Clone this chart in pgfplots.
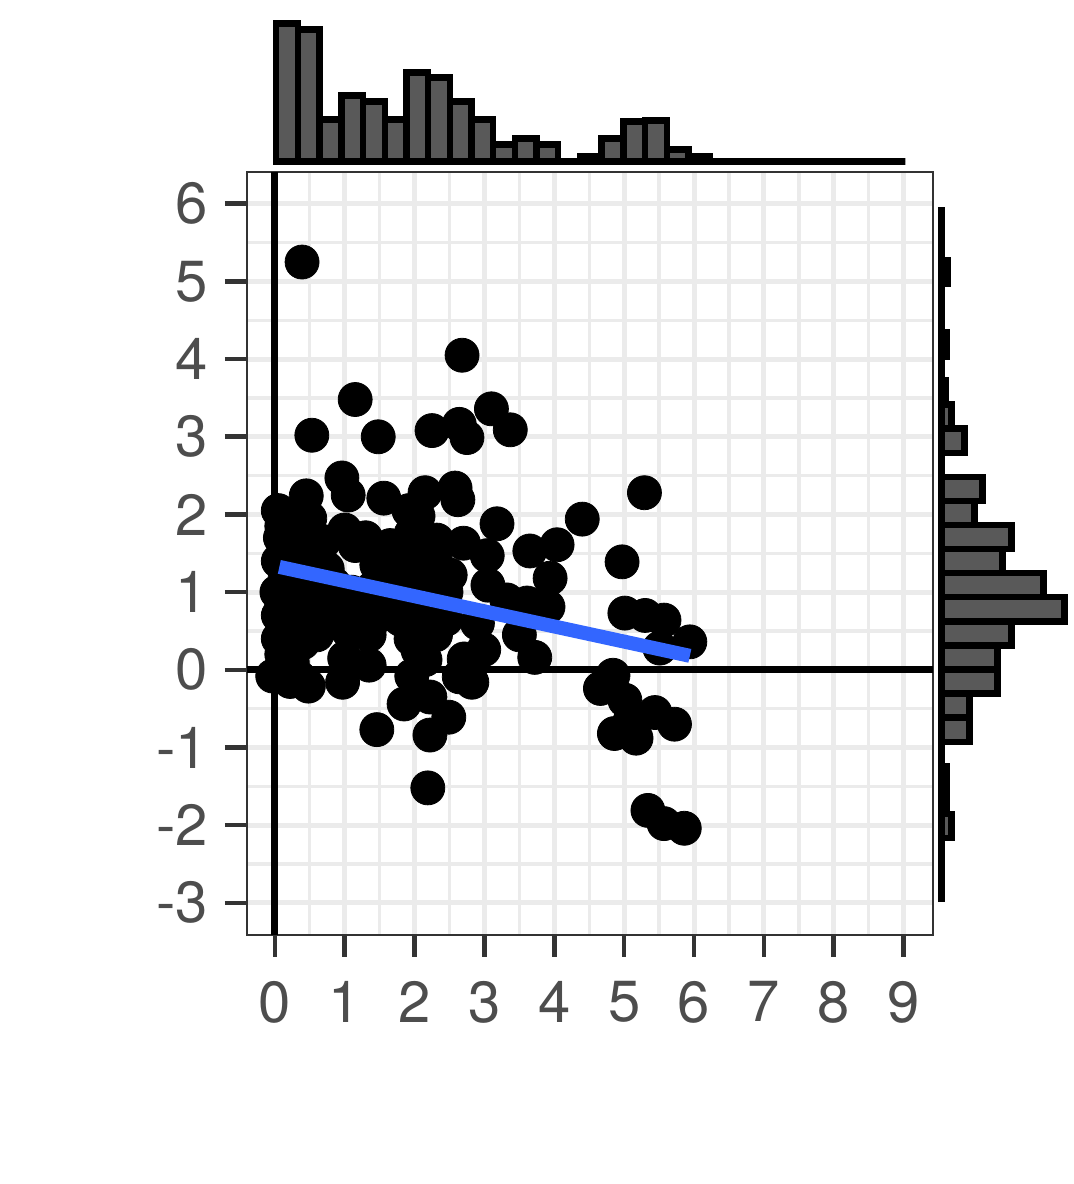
\documentclass[border=0pt]{standalone}
\usepackage{fontspec}
\setmainfont{TeX Gyre Heros}
\usepackage{pgfplots}
\usepackage{pgfplotstable}
\pgfplotsset{compat=1.18}

\definecolor{gridgray}{RGB}{235,235,235}
\definecolor{framegray}{RGB}{51,51,51}
\definecolor{labelgray}{RGB}{77,77,77}
\definecolor{barfill}{RGB}{89,89,89}
\definecolor{fitblue}{RGB}{51,102,255}

% top marginal histogram: left bin edge, bar height
\pgfplotstableread{
edge h
0.020 138
0.331 132
0.641 42
0.952 66
1.262 60
1.573 42
1.883 89
2.194 84
2.504 60
2.815 42
3.125 17
3.436 23
3.746 17
4.057 0
4.367 5
4.678 23
4.988 40
5.299 41
5.609 12
5.920 5
6.230 0
6.541 0
6.851 0
7.162 0
7.472 0
7.783 0
8.093 0
8.404 0
8.714 0
9.025 0
}\xhist

% right marginal histogram: lower bin edge, bar length
\pgfplotstableread{
edge h
-2.787 0
-2.477 0
-2.166 10
-1.856 5
-1.546 5
-1.236 0
-0.926 28
-0.616 28
-0.306 56
0.004 56
0.314 70
0.624 123
0.935 102
1.245 61
1.555 70
1.865 33
2.175 41
2.485 0
2.795 23
3.105 10
3.415 4
3.726 0
4.036 5
4.346 0
4.656 0
4.966 6
5.276 0
5.586 0
5.896 0
}\yhist

\pgfplotstableread{
x y
0.39 5.25
2.68 4.05
1.15 3.48
3.10 3.36
0.53 3.02
1.48 3.00
2.25 3.08
2.64 3.16
2.75 2.99
3.37 3.09
0.96 2.47
0.45 2.24
1.05 2.25
1.56 2.21
2.15 2.28
2.58 2.34
2.62 2.19
2.05 1.98
3.18 1.88
4.40 1.94
5.29 2.28
2.32 1.67
2.70 1.63
3.04 1.47
3.65 1.53
4.04 1.61
4.97 1.39
3.94 1.18
3.05 1.09
2.51 1.22
1.86 1.44
1.46 1.35
3.32 0.90
3.61 0.86
3.91 0.81
5.01 0.73
5.30 0.70
5.57 0.64
5.94 0.36
5.51 0.28
3.50 0.45
3.72 0.16
2.99 0.26
2.71 0.14
2.82 -0.16
2.64 -0.09
4.84 -0.07
4.66 -0.24
5.01 -0.39
5.08 -0.67
4.86 -0.82
5.17 -0.88
5.44 -0.55
5.72 -0.70
5.34 -1.81
5.57 -1.98
5.86 -2.04
2.19 -1.52
2.22 -0.84
1.46 -0.77
2.49 -0.61
2.22 -0.35
1.85 -0.44
0.97 -0.16
0.48 -0.21
0.22 -0.15
-0.03 -0.08
1.35 0.06
1.00 0.15
2.15 0.13
1.96 -0.08
0.05 2.05
0.10 1.85
0.08 1.70
0.20 1.55
0.05 1.40
0.15 1.20
0.28 1.10
0.03 1.00
0.18 0.95
0.10 0.85
0.25 0.75
0.05 0.70
0.15 0.60
0.30 0.50
0.05 0.40
0.20 0.30
0.10 0.20
0.25 0.10
0.10 -0.05
0.50 1.95
0.40 1.75
0.60 1.60
0.45 1.45
0.55 1.30
0.38 1.15
0.60 1.05
0.50 0.95
0.42 0.85
0.62 0.80
0.35 0.70
0.55 0.65
0.48 0.55
0.60 0.45
0.40 0.35
0.35 -0.10
0.70 1.65
0.85 1.10
0.80 0.80
0.70 0.60
0.90 0.90
0.75 1.30
1.00 1.80
1.10 1.00
1.20 0.75
1.05 0.50
1.15 1.60
1.30 1.70
1.40 1.05
1.50 0.70
1.35 0.45
1.65 1.60
1.75 1.10
1.60 0.85
1.80 0.65
1.92 2.05
1.95 1.75
2.10 1.50
1.90 1.20
2.15 1.00
2.00 0.85
2.10 0.65
1.95 0.40
2.05 0.25
2.30 1.40
2.25 1.15
2.45 1.00
2.40 0.80
2.25 0.70
2.45 0.65
2.30 0.45
2.40 1.10
2.90 0.60
}\pts

\begin{document}
\begin{tikzpicture}
\path[use as bounding box, fill=white] (0,0) rectangle (537pt,592pt);

% top marginal
\begin{axis}[
  at={(123.5pt,511.25pt)}, anchor=south west,
  width=343pt, height=73.75pt, scale only axis,
  hide axis, clip=false,
  xmin=-0.398, xmax=9.42, ymin=0, ymax=147.5,
]
  \addplot[ybar interval, fill=barfill, draw=black, line width=3.2pt, line join=miter]
    table[x=edge, y=h] {\xhist};
  \addplot[black, line width=3.2pt] coordinates {(0.02,0) (9.025,0)};
\end{axis}

% right marginal
\begin{axis}[
  at={(470.75pt,124.5pt)}, anchor=south west,
  width=66.25pt, height=381.5pt, scale only axis,
  hide axis, clip=false,
  xmin=0, xmax=132.5, ymin=-3.414, ymax=6.409,
]
  \addplot[xbar interval, fill=barfill, draw=black, line width=3.2pt, line join=miter]
    table[x=h, y=edge] {\yhist};
  \addplot[black, line width=3.2pt] coordinates {(0,-2.99) (0,5.96)};
\end{axis}

% main scatter panel
\begin{axis}[
  at={(123.5pt,124.5pt)}, anchor=south west,
  width=343pt, height=381.5pt, scale only axis,
  xmin=-0.398, xmax=9.42, ymin=-3.414, ymax=6.409,
  xtick={0,1,2,3,4,5,6,7,8,9},
  ytick={-3,-2,-1,0,1,2,3,4,5,6},
  xticklabels={0,1,2,3,4,5,6,7,8,9},
  yticklabels={-3,-2,-1,0,1,2,3,4,5,6},
  minor x tick num=1, minor y tick num=1,
  grid=both,
  major grid style={draw=gridgray, line width=2.5pt},
  minor grid style={draw=gridgray, line width=1.7pt},
  tick pos=left, tick align=outside,
  major tick length=11pt, minor tick length=0pt,
  tick style={draw=framegray, line width=2.3pt},
  axis line style={draw=framegray, line width=1.4pt},
  ticklabel style={font=\fontsize{29}{30}\selectfont, text=labelgray, inner sep=0pt},
  xticklabel style={anchor=north},
  yticklabel style={anchor=east},
  xticklabel shift=12pt, yticklabel shift=8.5pt,
  clip marker paths=true,
]
  \addplot[black, line width=3.5pt] coordinates {(0,-3.414) (0,6.409)};
  \addplot[black, line width=3.5pt] coordinates {(-0.398,0) (9.42,0)};
  \addplot[only marks, mark=*, mark size=8.5pt, mark options={fill=black, draw=none}]
    table[x=x, y=y] {\pts};
  \addplot[fitblue, line width=7pt] coordinates {(0.065,1.325) (5.94,0.18)};
\end{axis}
\end{tikzpicture}
\end{document}
